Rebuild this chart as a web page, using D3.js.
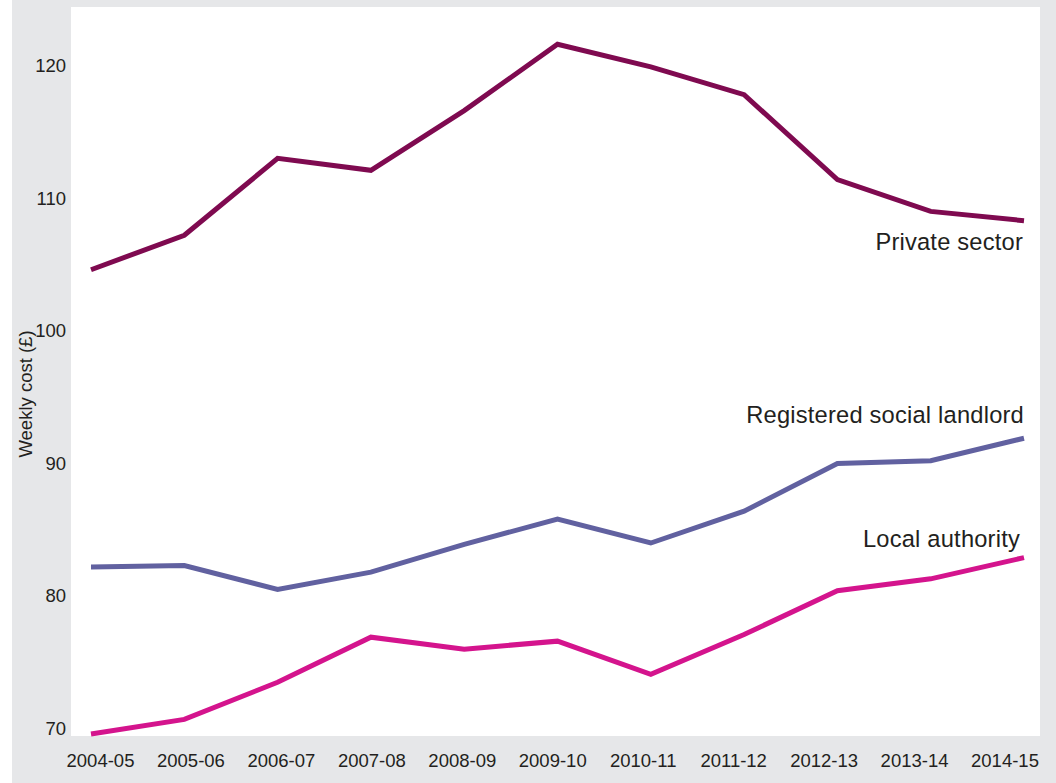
<!DOCTYPE html>
<html>
<head>
<meta charset="utf-8">
<script src="https://cdn.jsdelivr.net/npm/d3@7"></script>
<style>
  html, body { margin: 0; padding: 0; background: #fff; }
  svg { display: block; font-family: "Liberation Sans", Arial, Helvetica, sans-serif; }
</style>
</head>
<body>
<div id="chart"></div>
<script>
const years = ['2004-05', '2005-06', '2006-07', '2007-08', '2008-09', '2009-10',
               '2010-11', '2011-12', '2012-13', '2013-14', '2014-15'];
const privateSector = [104.6, 107.2, 113.0, 112.1, 116.6, 121.6, 119.9, 117.8, 111.4, 109.0, 108.3];
const socialLandlord = [82.2, 82.3, 80.5, 81.8, 83.9, 85.8, 84.0, 86.4, 90.0, 90.2, 91.9];
const localAuthority = [69.6, 70.7, 73.5, 76.9, 76.0, 76.6, 74.1, 77.1, 80.4, 81.3, 82.9];
const yTicks = [70, 80, 90, 100, 110, 120];

const seriesNames = ['Private sector', 'Registered social landlord', 'Local authority'];
const seriesValues = [privateSector, socialLandlord, localAuthority];

const COLORS = ['#7f0a50', '#6161a0', '#d4148d'];
const TEXT = '#231f20';
const BG = '#e6e7e9';

const width = 1056, height = 783;
const plot = { left: 71, right: 1040, top: 7, bottom: 736 };

const svg = d3.select('#chart').append('svg')
  .attr('width', width).attr('height', height);

// grey panel + white plotting area
svg.append('rect').attr('x', 12).attr('y', 0)
  .attr('width', width - 12).attr('height', height).attr('fill', BG);
svg.append('rect').attr('x', plot.left).attr('y', plot.top)
  .attr('width', plot.right - plot.left).attr('height', plot.bottom - plot.top)
  .attr('fill', '#fff');

const x = d3.scalePoint().domain(years).range([91, 1024]);
const xLabel = d3.scalePoint().domain(years).range([100, 1004.5]);
const y = d3.scaleLinear().domain([70, 120]).range([728.7, 65.5]);

// y axis (labels only)
const yAxis = svg.append('g')
  .attr('transform', `translate(66,0)`)
  .call(d3.axisLeft(y).tickValues(yTicks).tickSize(0).tickPadding(0));
yAxis.select('.domain').remove();
yAxis.selectAll('text')
  .attr('fill', TEXT).attr('font-size', '18.5px')
  .attr('font-family', '"Liberation Sans", Arial, sans-serif');

// x axis (labels only)
const xAxis = svg.append('g')
  .attr('transform', `translate(0,754)`)
  .call(d3.axisBottom(xLabel).tickSize(0).tickPadding(0));
xAxis.select('.domain').remove();
xAxis.selectAll('text')
  .attr('fill', TEXT).attr('font-size', '18.5px')
  .attr('font-family', '"Liberation Sans", Arial, sans-serif');

// y axis title
svg.append('text')
  .attr('transform', 'translate(32,394) rotate(-90)')
  .attr('text-anchor', 'middle')
  .attr('fill', TEXT).attr('font-size', '18.5px')
  .text('Weekly cost (£)');

const line = d3.line()
  .x((d, i) => x(years[i]))
  .y(d => y(d));

svg.append('g').selectAll('path')
  .data(seriesValues)
  .join('path')
  .attr('d', line)
  .attr('fill', 'none')
  .attr('stroke', (d, i) => COLORS[i])
  .attr('stroke-width', 5)
  .attr('stroke-linejoin', 'miter');

// series labels, right aligned near the line ends
const labelPos = [
  { x: 1023, y: 249.5 },
  { x: 1024, y: 423 },
  { x: 1020, y: 547 }
];
svg.append('g').selectAll('text')
  .data(seriesNames)
  .join('text')
  .attr('x', (d, i) => labelPos[i].x)
  .attr('y', (d, i) => labelPos[i].y)
  .attr('text-anchor', 'end')
  .attr('fill', TEXT)
  .attr('font-size', '23.7px')
  .attr('letter-spacing', '0.2px')
  .text(d => d);
</script>
</body>
</html>
